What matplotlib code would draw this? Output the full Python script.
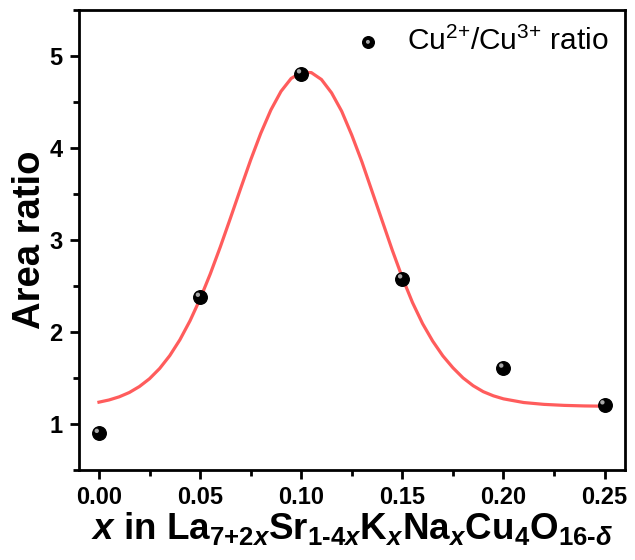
import numpy as np
import matplotlib
matplotlib.use('Agg')
import matplotlib.pyplot as plt
from matplotlib.ticker import MultipleLocator, FormatStrFormatter
from matplotlib.legend_handler import HandlerTuple
import matplotlib.transforms as mtransforms

plt.rcParams['font.family'] = ['Liberation Sans', 'DejaVu Sans']
plt.rcParams['mathtext.fontset'] = 'custom'
plt.rcParams['mathtext.rm'] = 'Liberation Sans:bold'
plt.rcParams['mathtext.it'] = 'Liberation Sans:bold:italic'
plt.rcParams['mathtext.bf'] = 'Liberation Sans:bold'

# measured points
x_data = [0.00, 0.05, 0.10, 0.15, 0.20, 0.25]
ratio = [0.90, 2.38, 4.81, 2.58, 1.61, 1.21]

# fitted curve
fit_x = [0.000, 0.005, 0.010, 0.015, 0.020, 0.025, 0.030, 0.035, 0.040, 0.045,
         0.050, 0.055, 0.060, 0.065, 0.070, 0.075, 0.080, 0.085, 0.090, 0.095,
         0.100, 0.105, 0.110, 0.115, 0.120, 0.125, 0.130, 0.135, 0.140, 0.145,
         0.150, 0.155, 0.160, 0.165, 0.170, 0.175, 0.180, 0.185, 0.190, 0.195,
         0.200, 0.210, 0.220, 0.230, 0.240, 0.250]
fit_y = [1.236, 1.260, 1.294, 1.341, 1.406, 1.491, 1.602, 1.742, 1.914, 2.120,
         2.359, 2.629, 2.925, 3.238, 3.557, 3.870, 4.160, 4.414, 4.616, 4.756,
         4.823, 4.820, 4.745, 4.600, 4.400, 4.140, 3.850, 3.530, 3.210, 2.890,
         2.590, 2.320, 2.090, 1.900, 1.740, 1.610, 1.500, 1.415, 1.350, 1.305,
         1.272, 1.232, 1.212, 1.201, 1.195, 1.192]

fig = plt.figure(figsize=(6.35, 5.6), dpi=100)
ax = fig.add_axes([0.124, 0.161, 0.860, 0.821])

ax.plot(fit_x, fit_y, color='#ff5c5c', lw=2.3, zorder=2)

# sphere-like markers: black disc + small grey highlight
hl = mtransforms.offset_copy(ax.transData, fig=fig, x=-1.6, y=1.6, units='points')
ax.scatter(x_data, ratio, s=95, color='black', zorder=3)
ax.scatter(x_data, ratio, s=10, color='#a8a8a8', edgecolors='none',
           transform=hl, zorder=4)

# legend handle (smaller sphere)
h1 = ax.scatter([], [], s=70, color='black')
h2 = ax.scatter([], [], s=8, color='#a8a8a8', edgecolors='none')
ax.legend([(h1, h2)], [r'Cu$\mathregular{^{2{+}}}$/Cu$\mathregular{^{3{+}}}$ ratio'],
          handler_map={tuple: HandlerTuple(ndivide=1)},
          loc='upper right', frameon=False, fontsize=21.5,
          handletextpad=0.7, borderaxespad=0.15, handlelength=1.2)

ax.set_xlim(-0.01, 0.26)
ax.set_ylim(0.5, 5.5)
ax.xaxis.set_major_locator(MultipleLocator(0.05))
ax.xaxis.set_minor_locator(MultipleLocator(0.025))
ax.yaxis.set_major_locator(MultipleLocator(1))
ax.yaxis.set_minor_locator(MultipleLocator(0.5))
ax.xaxis.set_major_formatter(FormatStrFormatter('%.2f'))

for s in ax.spines.values():
    s.set_linewidth(2.0)
ax.tick_params(which='both', direction='out', width=2.0, top=False, right=False)
ax.tick_params(which='major', length=6.5, labelsize=17, pad=5)
ax.tick_params(which='minor', length=4)
for lab in ax.get_xticklabels() + ax.get_yticklabels():
    lab.set_fontweight('bold')

ax.set_ylabel('Area ratio', fontsize=27.5, fontweight='bold', labelpad=1)
ax.set_xlabel(r'$x$ in La$_{7{+}2x}$Sr$_{1\text{-}4x}$K$_x$Na$_x$Cu$_4$O$_{16\text{-}\delta}$',
              fontsize=26.5, fontweight='bold', labelpad=1)

fig.savefig('out.png', dpi=100)
